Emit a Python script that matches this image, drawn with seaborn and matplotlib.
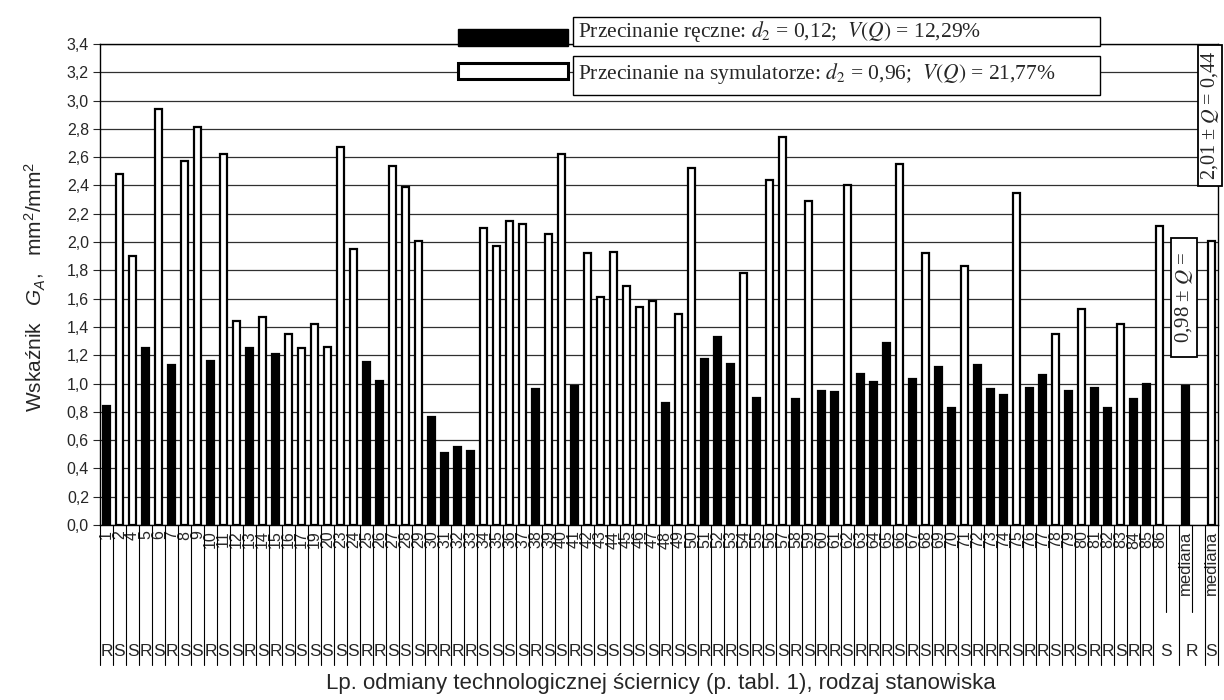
import numpy as np
import pandas as pd
import matplotlib
matplotlib.use("Agg")
import matplotlib.pyplot as plt
from matplotlib.patches import Rectangle
from matplotlib.ticker import FuncFormatter
import seaborn as sns

# numery odmian (brak 3, 18, 21, 22)
lp = [1, 2, 4, 5, 6, 7, 8, 9, 10, 11, 12, 13, 14, 15, 16, 17, 19, 20,
      23, 24, 25, 26, 27, 28, 29, 30, 31, 32, 33, 34, 35, 36, 37, 38, 39, 40,
      41, 42, 43, 44, 45, 46, 47, 48, 49, 50, 51, 52, 53, 54, 55, 56, 57, 58,
      59, 60, 61, 62, 63, 64, 65, 66, 67, 68, 69, 70, 71, 72, 73, 74, 75, 76,
      77, 78, 79, 80, 81, 82, 83, 84, 85, 86]

# R - przecinanie reczne, S - symulator
stanowisko = list("RSSRSRSSRS" "SRSRSSSSSS" "RRSSSRRRRS" "SSSRSSRSSS"
                  "SSSRSSRRRS" "RSSRSRRSRR" "RSRSRRSRRR" "SRRSRSRRSR" "RS")

gA = [0.84, 2.48, 1.90, 1.25, 2.94, 1.13, 2.57, 2.81, 1.16, 2.62,
      1.44, 1.25, 1.47, 1.21, 1.35, 1.25, 1.42, 1.26, 2.67, 1.95,
      1.15, 1.02, 2.54, 2.39, 2.01, 0.76, 0.51, 0.55, 0.52, 2.10,
      1.97, 2.15, 2.13, 0.96, 2.06, 2.62, 0.98, 1.92, 1.61, 1.93,
      1.69, 1.54, 1.58, 0.86, 1.49, 2.52, 1.17, 1.33, 1.14, 1.78,
      0.90, 2.44, 2.74, 0.89, 2.29, 0.95, 0.94, 2.40, 1.07, 1.01,
      1.29, 2.55, 1.03, 1.92, 1.12, 0.83, 1.83, 1.13, 0.96, 0.92,
      2.35, 0.97, 1.06, 1.35, 0.95, 1.53, 0.97, 0.83, 1.42, 0.89,
      1.00, 2.11]

mediana_R = 0.98
mediana_S = 2.01

leg_reczne = r"Przecinanie ręczne: $d_2$ = 0,12;  $V(Q)$ = 12,29%"
leg_symul = r"Przecinanie na symulatorze: $d_2$ = 0,96;  $V(Q)$ = 21,77%"

# ---------------------------------------------------------------
kat = [str(n) for n in lp]
df = pd.DataFrame({"kategoria": kat, "typ": stanowisko, "wartosc": gA})
df = pd.concat([df, pd.DataFrame({"kategoria": ["medR", "medS"],
                                  "typ": ["R", "S"],
                                  "wartosc": [mediana_R, mediana_S]})],
               ignore_index=True)
order = kat + ["_b1", "medR", "_b2", "medS"]

sns.set_theme(style="white")
plt.rcParams["font.family"] = ["Liberation Sans", "DejaVu Sans"]
plt.rcParams["mathtext.fontset"] = "custom"
plt.rcParams["mathtext.rm"] = "Liberation Sans"
plt.rcParams["mathtext.it"] = "Liberation Sans:italic"

W, H = 1224, 700
fig = plt.figure(figsize=(W / 100, H / 100), dpi=100)
ax = fig.add_axes([100 / W, 1 - 525 / H, (1218 - 100) / W, (525 - 44) / H])

sns.barplot(data=df, x="kategoria", y="wartosc", hue="typ", order=order,
            hue_order=["R", "S"], palette={"R": "black", "S": "white"},
            dodge=False, width=0.55, edgecolor="black", linewidth=1.6,
            errorbar=None, legend=False, ax=ax, zorder=3)

ax.set_xlim(-0.5, len(order) - 0.5)
ax.set_ylim(0, 3.4)
ax.set_yticks(np.arange(0, 3.41, 0.2))
ax.yaxis.set_major_formatter(FuncFormatter(lambda v, p: f"{v:.1f}".replace(".", ",")))
ax.yaxis.grid(True, color="#303030", linewidth=0.9)
ax.set_axisbelow(True)
ax.tick_params(axis="y", left=True, length=5, width=0.8, labelsize=11.5, pad=3)
ax.set_xlabel("")
ax.set_ylabel("")
for s in ax.spines.values():
    s.set_color("black")
    s.set_linewidth(1.0)

xt = kat + ["", "mediana", "", "mediana"]
ax.set_xticks(range(len(order)))
ax.set_xticklabels(xt, rotation=90, va="top", ha="center", fontsize=11.5)
for t in ax.get_xticklabels():
    if t.get_text() == "mediana":
        t.set_fontsize(12)
ax.tick_params(axis="x", length=0, pad=4)

# linie podzialu kategorii pod osia
trans = ax.get_xaxis_transform()
krotkie = [len(kat) - 0.5, len(kat) + 1.5]
for b in np.arange(-0.5, len(order), 1.0):
    d = -0.18 if b in krotkie else -0.292
    ax.plot([b, b], [0, d], transform=trans, color="black", lw=0.8,
            clip_on=False, zorder=1)

# drugi poziom etykiet: R / S
for i, s in enumerate(stanowisko[:-1]):
    ax.text(i, -0.262, s, transform=trans, ha="center", va="center", fontsize=12.5)
ax.text(len(kat) - 0.5, -0.262, stanowisko[-1], transform=trans,
        ha="center", va="center", fontsize=12.5)
ax.text(len(kat) + 1.5, -0.262, "R", transform=trans, ha="center", va="center", fontsize=12.5)
ax.text(len(kat) + 3, -0.262, "S", transform=trans, ha="center", va="center", fontsize=12.5)

fig.text(661 / W, 1 - 683 / H,
         "Lp. odmiany technologicznej ściernicy (p. tabl. 1), rodzaj stanowiska",
         ha="center", va="center", fontsize=16)
fig.text(35 / W, 1 - 287 / H, r"Wskaźnik   $G_A$,   mm$^2$/mm$^2$",
         rotation=90, ha="center", va="center", fontsize=15)


def px_rect(x0, y0, x1, y1, **kw):
    r = Rectangle((x0 / W, 1 - y1 / H), (x1 - x0) / W, (y1 - y0) / H,
                  transform=fig.transFigure, **kw)
    fig.add_artist(r)


serif = ["Liberation Serif", "DejaVu Serif"]

# legenda
px_rect(458, 29, 568, 46, facecolor="black", edgecolor="black", lw=1)
px_rect(458, 63, 568, 79, facecolor="white", edgecolor="black", lw=2.2)
px_rect(573, 17, 1100, 46, facecolor="white", edgecolor="black", lw=1)
px_rect(573, 56, 1100, 95, facecolor="white", edgecolor="black", lw=1)
fig.text(578 / W, 1 - 31.5 / H, leg_reczne, ha="left", va="center",
         fontsize=15.5, family=serif, math_fontfamily="stix")
fig.text(578 / W, 1 - 73 / H, leg_symul, ha="left", va="center",
         fontsize=15.5, family=serif, math_fontfamily="stix")

# opisy median
px_rect(1171, 238, 1197, 357, facecolor="white", edgecolor="black", lw=1.3)
fig.text(1184 / W, 1 - 297 / H, r"0,98 ± $Q$ =", rotation=90, ha="center",
         va="center", fontsize=15, family=serif, math_fontfamily="stix")
px_rect(1198, 45, 1222, 186, facecolor="white", edgecolor="black", lw=1.3)
fig.text(1210 / W, 1 - 115.5 / H, r"2,01 ± $Q$ = 0,44", rotation=90, ha="center",
         va="center", fontsize=14.5, family=serif, math_fontfamily="stix")

fig.savefig("out.png", dpi=100)
